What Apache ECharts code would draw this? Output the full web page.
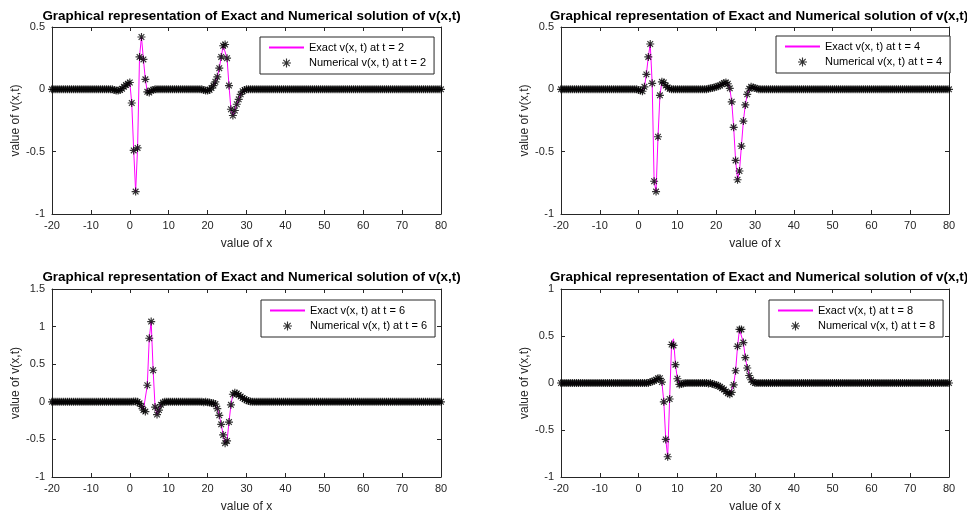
<!DOCTYPE html>
<html><head><meta charset="utf-8">
<script src="https://cdn.jsdelivr.net/npm/echarts@6/dist/echarts.min.js"></script>
<style>html,body{margin:0;padding:0;background:#fff}#c{width:967px;height:514px}</style>
</head><body><div id="c"></div>
<script>
// sampling grid of the solution
const X_MIN = -20, X_MAX = 80, X_STEP = 0.5;
const xTickLabels = [-20, -10, 0, 10, 20, 30, 40, 50, 60, 70, 80];
const times = [2, 4, 6, 8];
const yRanges = [[-1, 0.5], [-1, 0.5], [-1, 1.5], [-1, 1]];

// non-zero samples ([x, v]); all other grid points read as 0
const numT2 = [[-4,-0.005],[-3.5,-0.01],[-3,-0.01],[-2.5,-0.005],[-2,0.005],[-1.5,0.02],[-1,0.035],[-0.5,0.045],[0,0.055],
  [0.5,-0.11],[1,-0.49],[1.5,-0.82],[2,-0.47],[2.5,0.26],[3,0.42],[3.5,0.24],[4,0.08],[4.5,-0.02],[5,-0.025],[5.5,-0.01],[6,-0.005],
  [19,-0.005],[19.5,-0.01],[20,-0.01],[20.5,-0.005],[21,0.01],[21.5,0.03],[22,0.06],[22.5,0.1],[23,0.17],[23.5,0.26],[24,0.35],
  [24.5,0.36],[25,0.25],[25.5,0.03],[26,-0.16],[26.5,-0.21],[27,-0.17],[27.5,-0.12],[28,-0.08],[28.5,-0.04],[29,-0.015],[29.5,-0.005]];
const numT4 = [[0,-0.005],[0.5,-0.01],[1,-0.015],[1.5,0.02],[2,0.12],[2.5,0.26],[3,0.364],[3.5,0.048],[4,-0.737],[4.5,-0.82],
  [5,-0.38],[5.5,-0.048],[6,0.06],[6.5,0.055],[7,0.03],[7.5,0.015],[8,0.005],
  [18,0.005],[18.5,0.008],[19,0.01],[19.5,0.015],[20,0.02],[20.5,0.025],[21,0.03],[21.5,0.04],[22,0.05],[22.5,0.055],[23,0.045],
  [23.5,0.008],[24,-0.1],[24.5,-0.305],[25,-0.57],[25.5,-0.725],[26,-0.655],[26.5,-0.455],[27,-0.255],[27.5,-0.125],[28,-0.04],
  [28.5,0.005],[29,0.02],[29.5,0.015],[30,0.01],[30.5,0.005]];
const numT6 = [[1,0.005],[1.5,0.005],[2.5,-0.02],[3,-0.06],[3.5,-0.11],[4,-0.13],[4.5,0.22],[5,0.845],[5.5,1.067],[6,0.42],
  [6.5,-0.07],[7,-0.17],[7.5,-0.11],[8,-0.04],[8.5,-0.01],
  [19,-0.005],[20,-0.005],[20.5,-0.01],[21,-0.015],[21.5,-0.02],[22,-0.03],[22.5,-0.09],[23,-0.18],[23.5,-0.3],[24,-0.44],
  [24.5,-0.55],[25,-0.52],[25.5,-0.27],[26,-0.04],[26.5,0.1],[27,0.12],[27.5,0.11],[28,0.09],[28.5,0.07],[29,0.05],[29.5,0.035],
  [30,0.02],[30.5,0.01],[31,0.005]];
const numT8 = [[3,0.01],[3.5,0.015],[4,0.025],[4.5,0.035],[5,0.05],[5.5,0.05],[6,0.01],[6.5,-0.2],[7,-0.6],[7.5,-0.785],
  [8,-0.17],[8.5,0.41],[9,0.4],[9.5,0.195],[10,0.045],[10.5,-0.015],[11,-0.01],[11.5,-0.005],
  [18,-0.005],[19,-0.01],[19.5,-0.015],[20,-0.02],[20.5,-0.03],[21,-0.04],[21.5,-0.055],[22,-0.07],[22.5,-0.09],[23,-0.11],
  [23.5,-0.12],[24,-0.1],[24.5,-0.02],[25,0.13],[25.5,0.39],[26,0.57],[26.5,0.57],[27,0.43],[27.5,0.27],[28,0.16],[28.5,0.08],
  [29,0.035],[29.5,0.01]];
// exact solution coincides with the numerical one except where read differently
const exactT8Diff = [[9, 0.47]];

const numerical = [numT2, numT4, numT6, numT8];
const exactDiffs = [[], [], [], exactT8Diff];

function buildSeries(nonzero, diff) {
  const map = new Map();
  nonzero.forEach(p => map.set(p[0], p[1]));
  diff.forEach(p => map.set(p[0], p[1]));
  const out = [];
  for (let i = 0; X_MIN + i * X_STEP <= X_MAX + 1e-9; i++) {
    const x = X_MIN + i * X_STEP;
    out.push([x, map.has(x) ? map.get(x) : 0]);
  }
  return out;
}

const AX = '#262626';
const grids = [
  {left: 52, top: 27, width: 389, height: 187},
  {left: 561, top: 27, width: 388, height: 187},
  {left: 52, top: 289, width: 389, height: 188},
  {left: 561, top: 289, width: 388, height: 188}
];
const legendPos = [
  {left: 260, top: 37}, {left: 776, top: 36}, {left: 261, top: 300}, {left: 769, top: 300}
];
const STAR = 'path://M5 0L5 10M0 5L10 5M1.46 1.46L8.54 8.54M1.46 8.54L8.54 1.46';

const option = {
  animation: false,
  backgroundColor: '#fff',
  textStyle: {fontFamily: 'Liberation Sans, Arial, sans-serif'},
  title: [], grid: [], xAxis: [], yAxis: [], legend: [], series: []
};

grids.forEach((g, i) => {
  option.grid.push(Object.assign({containLabel: false}, g));
  option.title.push({
    text: 'Graphical representation of Exact and Numerical solution of v(x,t)',
    left: g.left + g.width / 2 - (i % 2 ? 1 : 0), top: i < 2 ? 5 : 266, textAlign: 'center',
    textStyle: {fontSize: 13.4, fontWeight: 'bold', color: '#000', fontFamily: 'Liberation Sans, Arial, sans-serif'}
  });
  const axLine = {show: true, onZero: false, lineStyle: {color: AX, width: 1}};
  const tick = {show: true, inside: true, length: 4, lineStyle: {color: AX, width: 1}};
  option.xAxis.push({
    type: 'value', gridIndex: i, position: 'bottom', min: xTickLabels[0], max: xTickLabels[xTickLabels.length - 1],
    interval: xTickLabels[1] - xTickLabels[0],
    axisLine: axLine, axisTick: tick, splitLine: {show: false},
    axisLabel: {color: AX, fontSize: 11, margin: 6},
    name: 'value of x', nameLocation: 'middle', nameGap: 24,
    nameTextStyle: {color: AX, fontSize: 12}
  });
  option.xAxis.push({
    type: 'value', gridIndex: i, position: 'top', min: xTickLabels[0], max: xTickLabels[xTickLabels.length - 1],
    interval: xTickLabels[1] - xTickLabels[0],
    axisLine: axLine, axisTick: tick, splitLine: {show: false}, axisLabel: {show: false}
  });
  const yr = yRanges[i];
  option.yAxis.push({
    type: 'value', gridIndex: i, position: 'left', min: yr[0], max: yr[1], interval: 0.5,
    axisLine: axLine, axisTick: tick, splitLine: {show: false},
    axisLabel: {color: AX, fontSize: 11, margin: 7},
    name: 'value of v(x,t)', nameLocation: 'middle', nameGap: 27,
    nameTextStyle: {color: AX, fontSize: 12}
  });
  option.yAxis.push({
    type: 'value', gridIndex: i, position: 'right', min: yr[0], max: yr[1], interval: 0.5,
    axisLine: axLine, axisTick: tick, splitLine: {show: false}, axisLabel: {show: false}
  });
  const t = times[i];
  const exName = 'Exact v(x, t) at t = ' + t;
  const nuName = 'Numerical v(x, t) at t = ' + t;
  option.series.push({
    name: exName, type: 'line', xAxisIndex: 2 * i, yAxisIndex: 2 * i,
    data: buildSeries(numerical[i], exactDiffs[i]), symbol: 'none',
    lineStyle: {color: '#ff00ff', width: 1}, itemStyle: {color: '#ff00ff'}, z: 2
  });
  option.series.push({
    name: nuName, type: 'scatter', xAxisIndex: 2 * i, yAxisIndex: 2 * i,
    data: buildSeries(numerical[i], []), symbol: STAR, symbolSize: 8,
    itemStyle: {color: 'none', borderColor: '#000', borderWidth: 1.15}, z: 3
  });
  option.legend.push(Object.assign({
    orient: 'vertical',
    data: [{name: exName, itemStyle: {opacity: 0}}, {name: nuName, icon: STAR}],
    backgroundColor: '#fff', borderColor: AX, borderWidth: 1, borderRadius: 0,
    padding: [5, 8, 4, 8], itemGap: 3, itemWidth: 35, itemHeight: 9,
    itemStyle: {borderWidth: 1.15},
    textStyle: {color: '#000', fontSize: 11}, selectedMode: false
  }, legendPos[i]));
});

const chart = echarts.init(document.getElementById('c'), null, {renderer: 'canvas'});
chart.setOption(option);
</script>
</body></html>
